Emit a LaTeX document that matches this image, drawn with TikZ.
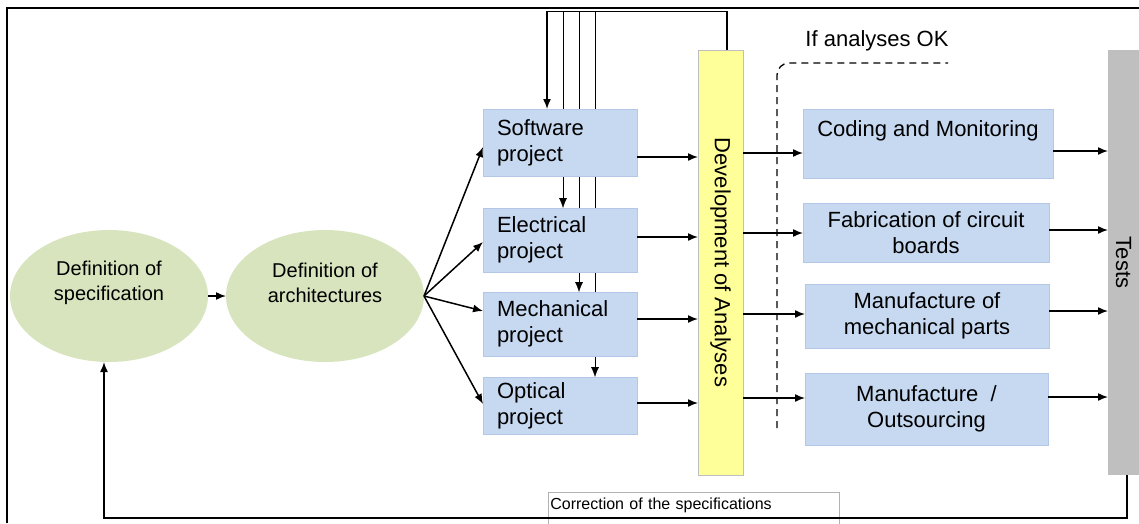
\documentclass[tikz,border=0pt]{standalone}
\usepackage{fontspec}
\setmainfont{Liberation Sans}
\usetikzlibrary{arrows.meta}
\usetikzlibrary{shapes,backgrounds,calc}
\definecolor{boxblue}{RGB}{198,217,241}
\definecolor{boxedge}{RGB}{180,199,231}
\definecolor{bubblegreen}{RGB}{215,228,189}
\definecolor{barfill}{RGB}{255,255,153}
\definecolor{testgrey}{RGB}{191,191,191}
\tikzset{%
  >={Latex[width=8pt,length=10pt]},
  % Specifications for style of nodes:
            base1/.style = {rectangle, draw=boxedge, line width=0.8pt,
                           fill=boxblue, inner sep=0pt, outer sep=0pt,
                           font=\fontsize{22}{26}\selectfont},
          projbox/.style = {base1, minimum width=154pt, text width=126pt,
                           inner xsep=14pt, align=left},
          makebox/.style = {base1, align=center},
           bubble/.style = {ellipse, fill=bubblegreen, inner sep=0pt,
                           outer sep=0pt, minimum width=198pt, minimum height=132pt},
       bubbletext/.style = {align=center, font=\fontsize{20}{25}\selectfont},
        yellowbar/.style = {rectangle, draw=black!25, line width=0.8pt, fill=barfill,
                           minimum width=45pt, minimum height=425pt, outer sep=0pt},
          greybar/.style = {rectangle, fill=testgrey, minimum width=31pt,
                           minimum height=425pt, outer sep=0pt},
          bartext/.style = {rotate=-90, font=\fontsize{22}{26}\selectfont},
        plaintext/.style = {font=\fontsize{22}{26}\selectfont},
          notebox/.style = {rectangle, draw=black!30, line width=0.6pt, fill=white,
                           text width=287pt, inner xsep=2pt, inner ysep=2pt,
                           text height=15pt, text depth=20pt, align=left,
                           font=\fontsize{16}{18}\selectfont}
}

\begin{document}
\begin{tikzpicture}[x=1pt, y=-1pt, line width=1.5pt]
  \useasboundingbox (0,0) rectangle (1139,523);
  % frame
  \draw[line width=1.6pt] (7,523) |- (1139,8);
  % Specification of nodes (position, etc.)
  \node (spec)      [bubble] at (109,296) {};
  \node (spectext)  [bubbletext] at ($(spec.center)+(0,-13)$) {Definition of\\specification};
  \node (arch)      [bubble] at (325,296) {};
  \node (archtext)  [bubbletext] at ($(arch.center)+(0,-13)$) {Definition of\\architectures};

  \node (sw) [projbox, minimum height=67pt] at (560,142.5) {Software\\project};
  \node (el) [projbox, minimum height=64pt] at (560,240) {Electrical\\project};
  \node (me) [projbox, minimum height=64pt] at (560,324) {Mechanical\\project};
  \node (op) [projbox, minimum height=57pt] at (560,405.5) {Optical\\project};

  \node (dev)       [yellowbar] at (720.5,262.5) {};
  \node (devtext)   [bartext] at (dev.center) {Development of Analyses};

  \node (cod)  [makebox, minimum width=250pt, minimum height=69pt] at (928,143.5) {};
  \node (codtext)   [plaintext] at ($(cod.north)+(0,22)$) {Coding and Monitoring};
  \node (fab)  [makebox, minimum width=246pt, minimum height=59pt] at (926,232.5) {Fabrication of circuit\\boards};
  \node (mech) [makebox, minimum width=244pt, minimum height=64pt] at (927,316) {Manufacture of\\mechanical parts};
  \node (outs) [makebox, minimum width=243pt, minimum height=72pt] at (926.5,409) {Manufacture~~/\\Outsourcing};

  \node (tests)     [greybar] at (1123.5,262.5) {};
  \node (teststext) [bartext] at (tests.center) {Tests};

  \node (note) [notebox, anchor=north west] at (548,492) {Correction of the specifications};

  % dashed condition
  \coordinate (okfoot) at (777,428);
  \coordinate (oktop)  at (948,63);
  \draw[dashed, dash pattern=on 7pt off 5pt, line width=1.3pt, rounded corners=12pt] (okfoot) |- (oktop);
  \node (oklabel) [plaintext] at (877,41) {If analyses OK};

  % connectors
  \draw[->] (spec.east) -- (arch.west);
  \foreach \proj/\dy in {sw/4.5, el/2, me/-13, op/-1.5}
    \draw[->] (arch.east) -- ($(\proj.west)+(0,\dy)$);
  \foreach \proj/\dy in {sw/14.5, el/-3, me/-5, op/-2.5}{
    \coordinate (out) at ($(\proj.east)+(0,\dy)$);
    \draw[->] (out) -- (out -| dev.west);
  }
  \foreach \mk/\dy in {cod/9.5, fab/0.5, mech/-2, outs/-11}{
    \coordinate (in) at ($(\mk.west)+(0,\dy)$);
    \draw[->] (in -| dev.east) -- (in);
  }
  \foreach \mk/\dy in {cod/7.5, fab/-2.5, mech/-5, outs/-12}{
    \coordinate (out) at ($(\mk.east)+(0,\dy)$);
    \draw[->] (out) -- (out -| tests.west);
  }

  % loop back from the analyses
  \coordinate (looptop) at (640,11.5);
  \coordinate (devup) at ($(dev.north)+(6.5,0)$);
  \coordinate (swin) at ($(sw.north)+(-13,0)$);
  \draw[->] (devup) |- (swin |- looptop) -- (swin);
  \begin{scope}[on background layer]
    \foreach \proj/\dx in {el/3, me/19, op/35}{
      \coordinate (drop) at ($(\proj.north)+(\dx,0)$);
      \draw[->] (drop |- looptop) -- (drop);
    }
  \end{scope}

  % correction of the specifications
  \coordinate (testsout) at ($(tests.south)+(3.5,0)$);
  \coordinate (specin) at ($(spec.south)+(-5,0)$);
  \draw[->] (testsout) |- ($(specin)+(0,156)$) -- (specin);
\end{tikzpicture}
\end{document}
